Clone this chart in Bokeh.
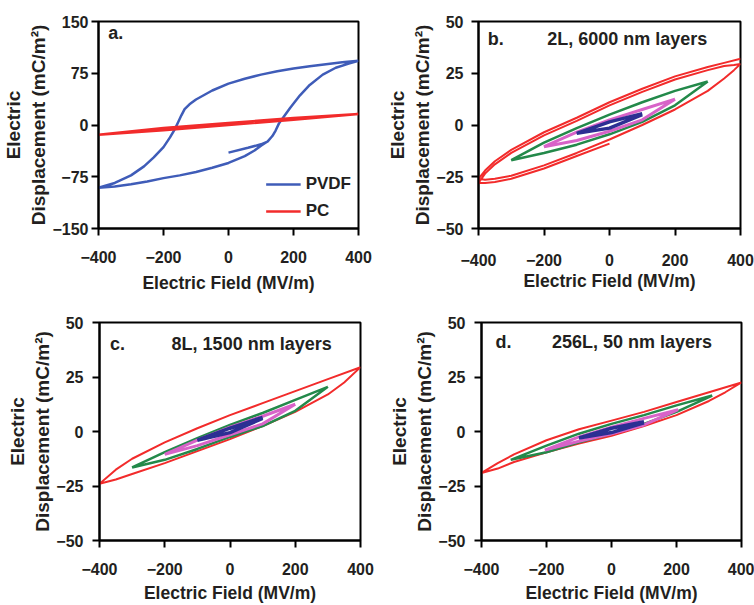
from bokeh.plotting import figure
from bokeh.layouts import row, column
from bokeh.models import Range1d, Label
from bokeh.embed import file_html
from bokeh.resources import INLINE

FONT = "Liberation Sans"
TXT = "#231f20"

# ---------------- data ----------------
x_ticks = [-400, -200, 0, 200, 400]
y_ticks_a = [-150, -75, 0, 75, 150]
y_ticks_bcd = [-50, -25, 0, 25, 50]

# Panel a: PVDF hysteresis loop (initial curve, upper branch, lower branch)
a_pvdf_x = [0, 60, 100, 120, 135, 145, 155, 170, 190, 220, 250, 290, 330, 370, 400,
            350, 300, 250, 200, 150, 100, 50, 0, -50, -100, -120, -135, -145, -155, -165,
            -180, -200, -230, -260, -300, -350, -400,
            -350, -300, -250, -200, -150, -100, -50, 0, 50, 80, 100, 120, 135, 145, 155,
            170, 190, 220, 250, 290, 330, 370, 400]
a_pvdf_y = [-40, -33, -28, -24, -16, -8, 2, 12, 25, 43, 58, 73, 83, 89, 93,
            91, 88, 85, 82, 78, 73, 67, 60, 50, 37, 30, 23, 14, 4, -6,
            -18, -32, -47, -60, -73, -84, -91,
            -89, -86, -82, -77, -73, -68, -62, -55, -45, -37, -30, -24, -16, -8, 2,
            12, 25, 43, 58, 73, 83, 89, 93]
# Panel a: PC loop
a_pc_x = [-400, -200, 0, 200, 400, 200, 0, -200, -400]
a_pc_y = [-14, -7.5, 0, 7.5, 16, 10, 3, -4.5, -14]

# Panel b: 2L, 6000 nm layers
b_red_x = [400, 350, 300, 200, 100, 0, -100, -200, -300, -350, -380, -400,
           -380, -350, -300, -200, -100, 0, 100, 200, 300, 350, 380, 400,
           380, 350, 300, 200, 100, 0, -100, -200, -300, -350, -380, -400,
           -380, -350, -300, -200, -100, 0]
b_red_y = [32, 30, 28, 23.5, 17.5, 11, 3.5, -3.5, -12, -17.5, -22, -26,
           -26.5, -26, -24.5, -19.5, -13.5, -7, 0, 7.5, 16.5, 22.5, 26.5, 29.5,
           29, 28.5, 26.5, 22, 16, 9.5, 2, -5, -13.5, -19, -23.5, -28,
           -28, -27.5, -26, -21, -15, -9]
b_green_x = [300, 200, 100, 0, -100, -200, -300, -200, -100, 0, 100, 200, 300]
b_green_y = [21, 16.5, 11, 5, -1.5, -8.5, -17, -13.5, -9.5, -4.5, 1.5, 9.5, 21]
b_pink_x = [200, 100, 0, -100, -200, -100, 0, 100, 200]
b_pink_y = [12.5, 7.5, 2.5, -3.5, -10.5, -7.5, -3, 2.5, 12.5]
b_navy_x = [100, 0, -100, 0, 100]
b_navy_y = [5.5, 1.5, -4, -1.5, 5]

# Panel c: 8L, 1500 nm layers
c_red_x = [400, 300, 200, 100, 0, -100, -200, -300, -350, -400,
           -350, -300, -200, -100, 0, 100, 200, 300, 350, 400]
c_red_y = [29.5, 24, 18.5, 13, 7.5, 1.5, -5, -12.5, -17.5, -24,
           -22, -19.5, -14.5, -9, -3.5, 2.5, 9, 17, 22.5, 29.5]
c_green_x = [300, 200, 100, 0, -100, -200, -300, -200, -100, 0, 100, 200, 300]
c_green_y = [20.5, 14.5, 8.5, 3, -3, -9.5, -16.5, -13, -8, -2.5, 2.5, 9.5, 20.5]
c_pink_x = [200, 100, 0, -100, -200, -100, 0, 100, 200]
c_pink_y = [12.5, 7, 2, -4, -10.5, -6.5, -1.5, 3.5, 12.5]
c_navy_x = [100, 0, -100, 0, 100]
c_navy_y = [6.5, 1.5, -4, -0.5, 6]

# Panel d: 256L, 50 nm layers
d_red_x = [400, 300, 200, 100, 0, -100, -200, -300, -350, -400,
           -350, -300, -200, -100, 0, 100, 200, 300, 350, 400]
d_red_y = [22.5, 18, 13.5, 9, 5, 1, -4, -10.5, -14.5, -19,
           -17, -14, -9.5, -5.5, -2, 2.5, 7.5, 14, 18, 22.5]
d_green_x = [310, 200, 100, 0, -100, -200, -310, -200, -100, 0, 100, 200, 310]
d_green_y = [16.5, 12, 7.5, 3.5, -1, -6.5, -13, -9.5, -5, -1, 3.5, 9, 16.5]
d_pink_x = [205, 100, 0, -100, -205, -100, 0, 100, 205]
d_pink_y = [10, 6, 2, -2.5, -8.5, -4.5, -1, 3, 10]
d_navy_x = [100, 0, -100, 0, 100]
d_navy_y = [4.5, 1.5, -3, -0.5, 4]

RED = "#f22b2b"
GREEN = "#23894a"
PINK = "#d863c8"
NAVY = "#2c2f93"
BLUE = "#3f5cb8"


def make_panel(width, height, ml, mr, mt, mb, yr, yticks, s_y, ls_y, s_x, ls_x):
    p = figure(width=width, height=height, x_range=Range1d(-400, 400),
               y_range=Range1d(*yr), output_backend="svg", toolbar_location=None,
               min_border_left=ml, min_border_right=mr, min_border_top=mt,
               min_border_bottom=mb)
    p.xgrid.visible = False
    p.ygrid.visible = False
    p.outline_line_color = "black"
    p.outline_line_width = 2
    p.outline_line_alpha = 1
    p.xaxis.ticker = x_ticks
    p.yaxis.ticker = yticks
    for ax in (p.xaxis, p.yaxis):
        ax.axis_line_width = 2
        ax.axis_line_color = "black"
        ax.major_tick_line_width = 2
        ax.major_tick_line_color = "black"
        ax.major_tick_in = 0
        ax.major_tick_out = 7
        ax.minor_tick_line_color = None
        ax.major_label_text_font = FONT
        ax.major_label_text_font_style = "bold"
        ax.major_label_text_font_size = "16px"
        ax.major_label_text_color = TXT
        ax.axis_label_text_font = FONT
        ax.axis_label_text_font_style = "bold"
        ax.axis_label_text_color = TXT
    p.xaxis.axis_label = "Electric Field (MV/m)"
    p.xaxis.axis_label_text_font_size = "17.5px"
    p.xaxis.major_label_standoff = s_x
    p.xaxis.axis_label_standoff = ls_x
    p.yaxis.axis_label = "Electric\nDisplacement (mC/m\u00b2)"
    p.yaxis.axis_label_text_font_size = "19px"
    p.yaxis.major_label_standoff = s_y
    p.yaxis.axis_label_standoff = ls_y
    return p


def add_text(p, x, y, text):
    p.add_layout(Label(x=x, y=y, text=text, text_font=FONT, text_font_style="bold",
                       text_font_size="18px", text_color=TXT, text_align="left",
                       text_baseline="middle"))


# ---- panel a ----
pa = make_panel(377, 300, 97, 19, 21, 72, (-150, 150), y_ticks_a, 3, 0, 15, 7)
pa.line(a_pvdf_x, a_pvdf_y, line_color=BLUE, line_width=2.5, legend_label="PVDF")
pa.line(a_pc_x, a_pc_y, line_color=RED, line_width=2.5, legend_label="PC")
add_text(pa, -370, 133, "a.")
lg = pa.legend[0]
lg.location = "bottom_right"
lg.border_line_color = None
lg.background_fill_alpha = 0
lg.padding = 8
lg.margin = 7
lg.spacing = 7
lg.label_height = 20
lg.glyph_height = 20
lg.glyph_width = 35
lg.label_standoff = 5
lg.label_text_font = FONT
lg.label_text_font_style = "bold"
lg.label_text_font_size = "17px"
lg.label_text_color = TXT

# ---- panel b ----
pb = make_panel(377, 300, 101, 14, 18, 63, (-50, 50), y_ticks_bcd, 8, 0, 18, 2)
pb.line(b_red_x, b_red_y, line_color=RED, line_width=2)
pb.line(b_green_x, b_green_y, line_color=GREEN, line_width=2.5)
pb.line(b_pink_x, b_pink_y, line_color=PINK, line_width=3)
pb.line(b_navy_x, b_navy_y, line_color=NAVY, line_width=3.5)
add_text(pb, -372, 41.5, "b.")
add_text(pb, -190, 41.5, "2L, 6000 nm layers")

# ---- panel c ----
pc = make_panel(377, 305, 99, 17, 22, 63, (-50, 50), y_ticks_bcd, 9, 0, 15, 5)
pc.line(c_red_x, c_red_y, line_color=RED, line_width=2)
pc.line(c_green_x, c_green_y, line_color=GREEN, line_width=2.5)
pc.line(c_pink_x, c_pink_y, line_color=PINK, line_width=3)
pc.line(c_navy_x, c_navy_y, line_color=NAVY, line_width=3.5)
add_text(pc, -368, 40, "c.")
add_text(pc, -179, 40, "8L, 1500 nm layers")

# ---- panel d ----
pd = make_panel(377, 305, 104, 13, 21, 64, (-50, 50), y_ticks_bcd, 9, 0, 15, 5)
pd.line(d_red_x, d_red_y, line_color=RED, line_width=2)
pd.line(d_green_x, d_green_y, line_color=GREEN, line_width=2.5)
pd.line(d_pink_x, d_pink_y, line_color=PINK, line_width=3)
pd.line(d_navy_x, d_navy_y, line_color=NAVY, line_width=3.5)
add_text(pd, -357, 41, "d.")
add_text(pd, -183, 41, "256L, 50 nm layers")

layout = column(row(pa, pb), row(pc, pd))
open("out.html", "w").write(file_html(layout, INLINE))
